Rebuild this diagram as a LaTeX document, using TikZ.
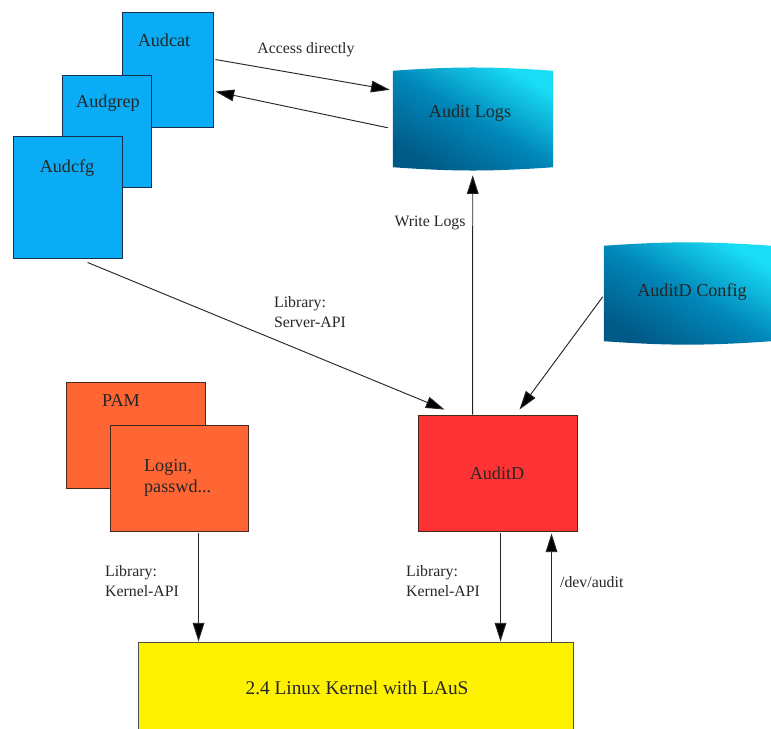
\documentclass[tikz,border=0pt]{standalone}
\usepackage{fontspec}
\setmainfont{Liberation Serif}
\newfontfamily\diagfont{Liberation Serif}
\usetikzlibrary{arrows.meta,fit,calc}
\definecolor{bluefill}{RGB}{10,172,245}
\definecolor{blueline}{RGB}{25,45,80}
\definecolor{orangefill}{RGB}{255,102,51}
\definecolor{redfill}{RGB}{255,51,51}
\definecolor{darkline}{RGB}{70,40,30}
\definecolor{cylbright}{RGB}{25,220,245}
\definecolor{cylmid}{RGB}{0,135,185}
\definecolor{cyldark}{RGB}{0,90,135}
\begin{document}
\begin{tikzpicture}[x=0.03cm,y=-0.03cm,
  box/.style={inner sep=0pt, line width=0.8pt},
  bluebox/.style={box, draw=blueline, fill=bluefill},
  orangebox/.style={box, draw=darkline, fill=orangefill},
  redbox/.style={box, draw=darkline, fill=redfill},
  yellowbox/.style={box, draw=black!70, fill=yellow},
  cylnode/.style={inner sep=0pt},
  cylfill/.style={draw=none, top color=cylbright, bottom color=cyldark, middle color=cylmid, shading angle=-30},
  boxtxt/.style={font=\diagfont\fontsize{15.5}{18}\selectfont, text=black!85},
  lbl/.style={font=\diagfont\fontsize{13.5}{16.5}\selectfont, align=left, text=black!85},
  arr/.style={draw=black!85, line width=0.8pt, -{Triangle[length=16pt,width=10pt,fill=black]}}]
\useasboundingbox (0,0) rectangle (771,729);

% client tools
\node[bluebox, fit={(122,12) (213,127)}] (audcat) {};
\node[bluebox, fit={(62,75) (151,187)}] (audgrep) {};
\node[bluebox, fit={(13,136) (122,258)}] (audcfg) {};
\node[boxtxt] (tcat) at (164,40) {Audcat};
\node[boxtxt] (tgrep) at (108,103) {Audgrep};
\node[boxtxt] (tcfg) at (67,168) {Audcfg};

% cylinders
\node[cylnode, fit={(393,71) (553,167)}] (logs) {};
\path[cylfill] (logs.north west) to[bend left=4] (logs.north east) -- (logs.south east) to[bend left=4] (logs.south west) -- cycle;
\node[boxtxt] (tlogs) at (470,113) {Audit Logs};

\node[cylnode, fit={(604,246) (771,341)}] (conf) {};
\path[cylfill] (conf.north west) to[bend left=4] (conf.north east) -- (conf.south east) to[bend left=4] (conf.south west) -- cycle;
\node[boxtxt] (tconf) at (692,292) {AuditD Config};

% PAM
\node[orangebox, fit={(66,382) (205,488)}] (pam) {};
\node[orangebox, fit={(110,425) (248,531)}] (login) {};
\node[boxtxt] (tpam) at (121,401) {PAM};
\node[boxtxt, anchor=west, align=left] (tlogin) at (140,478) {Login,\\passwd...};

% AuditD
\node[redbox, fit={(418,415) (577,531)}] (auditd) {};
\node[boxtxt] (tauditd) at (497,473) {AuditD};

% kernel
\node[yellowbox, fit={(138,642) (573,745)}] (kernel) {};
\node[boxtxt, font=\diagfont\fontsize{16.5}{19}\selectfont] (tkernel) at (357,688) {2.4 Linux Kernel with LAuS};

% connectors
\draw[arr] ($(audcat.north east)+(2,48)$) -- ($(logs.north west)+(-3,19)$);
\draw[arr] ($(logs.north west)+(-5,57)$) -- ($(audcat.north east)+(2,80)$);
\node[lbl] (lacc) at (306,50) {Access directly};

\draw[arr] ($(audcfg.south west)+(75,4)$) -- ($(auditd.north west)+(27,-5)$);
\node[lbl, anchor=west] (lsrv) at (270,312) {Library:\\Server-API};

\draw[arr] ($(auditd.north west)+(55,0)$) -- ($(logs.south west)+(80,8)$);
\node[lbl] (lwrite) at (430,223) {Write Logs};

\draw[arr] ($(conf.north west)+(-1,51)$) -- ($(auditd.north west)+(102,-5)$);

\draw[arr] ($(login.south west)+(89,2)$) -- ($(kernel.north west)+(61,0)$);
\node[lbl, anchor=west] (lk1) at (101,581) {Library:\\Kernel-API};

\draw[arr] ($(auditd.south west)+(83,2)$) -- ($(kernel.north west)+(363,0)$);
\node[lbl, anchor=west] (lk2) at (402,581) {Library:\\Kernel-API};

\draw[arr] ($(kernel.north west)+(414,0)$) -- ($(auditd.south west)+(134,2)$);
\node[lbl, anchor=west] (ldev) at (556,582) {/dev/audit};
\end{tikzpicture}
\end{document}
